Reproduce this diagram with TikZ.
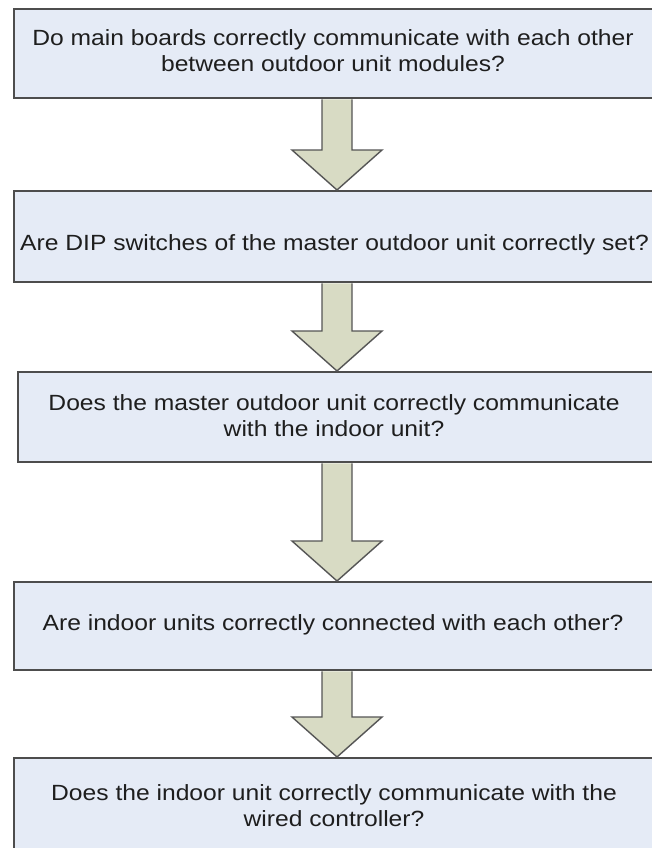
\documentclass[tikz,border=0pt]{standalone}
\usepackage{fontspec}
\setmainfont[FakeStretch=1.12]{Liberation Sans}
\usetikzlibrary{calc}
\definecolor{boxfill}{HTML}{E5EBF6}
\definecolor{boxline}{HTML}{4D4D4D}
\definecolor{arrfill}{HTML}{D8DBC4}
\definecolor{arrline}{HTML}{555555}
\definecolor{txtcol}{HTML}{1E1E1E}
\tikzset{
  stepbox/.style={draw=boxline, fill=boxfill, line width=2.4pt, inner sep=0pt, anchor=north west, minimum width=660pt},
  qtext/.style={align=center, inner sep=0pt, text=txtcol, font=\fontsize{22}{25.5}\selectfont},
  bigarrow/.style={draw=arrline, fill=arrfill, line width=1.4pt, line join=miter}
}
\begin{document}
\begin{tikzpicture}[x=1pt,y=-1pt]
\useasboundingbox (0,0) rectangle (651,848);
\fill[white] (0,0) rectangle (651,848);
% boxes
\node[stepbox, minimum height=89pt] (b1) at (13,8) {};
\node[stepbox, minimum height=91pt] (b2) at (13,190) {};
\node[stepbox, minimum height=90pt] (b3) at (17,371) {};
\node[stepbox, minimum height=88pt] (b4) at (13,581) {};
\node[stepbox, minimum height=120pt] (b5) at (13,757) {};
% texts
\node[qtext] (t1) at (333,50.5) {Do main boards correctly communicate with each other\\between outdoor unit modules?};
\node[qtext] (t2) at (334.5,245) {Are DIP switches of the master outdoor unit correctly set?};
\node[qtext] (t3) at (334,415.5) {Does the master outdoor unit correctly communicate\\with the indoor unit?};
\node[qtext] (t4) at (333,625.3) {Are indoor units correctly connected with each other?};
\node[qtext] (t5) at (334,805.5) {Does the indoor unit correctly communicate with the\\wired controller?};
% arrows
\coordinate (cx) at (337,0);
\foreach \a/\b in {b1/b2, b2/b3, b3/b4, b4/b5}{
  \draw[bigarrow]
    ($(cx |- \a.south)+(-15,0)$) -- ($(cx |- \b.north)+(-15,-40)$) -- ($(cx |- \b.north)+(-45,-40)$)
    -- (cx |- \b.north)
    -- ($(cx |- \b.north)+(45,-40)$) -- ($(cx |- \b.north)+(15,-40)$) -- ($(cx |- \a.south)+(15,0)$);
}
\end{tikzpicture}
\end{document}
